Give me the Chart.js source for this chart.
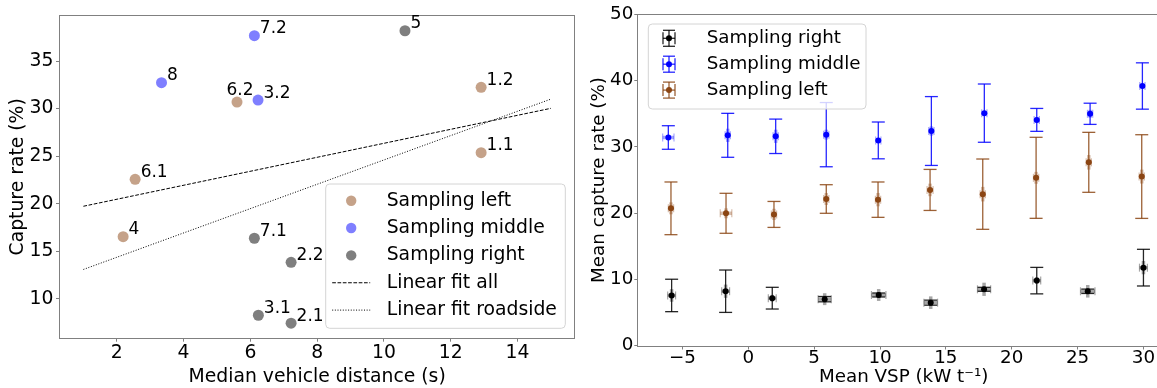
<!DOCTYPE html>
<html>
<head>
<meta charset="utf-8">
<script src="https://cdn.jsdelivr.net/npm/chart.js@4.4.0/dist/chart.umd.min.js"></script>
<style>
  html, body { margin: 0; padding: 0; overflow: hidden; background: #fff; }
  #gapChart { position: absolute; left: 0; top: 0; }
  #vspChart { position: absolute; left: 580px; top: 0; }
</style>
</head>
<body>
<canvas id="gapChart" width="580" height="388"></canvas>
<canvas id="vspChart" width="600" height="388"></canvas>
<script>
// capture rate per sampling site against median vehicle gap
const leftSites = ['1.1', '1.2', '4', '6.1', '6.2'];
const leftGap = [12.91, 12.91, 2.19, 2.55, 5.60];
const leftRate = [25.37, 32.24, 16.54, 22.57, 30.69];

const middleSites = ['3.2', '7.2', '8'];
const middleGap = [6.23, 6.12, 3.34];
const middleRate = [30.90, 37.66, 32.72];

const rightSites = ['2.1', '2.2', '3.1', '5', '7.1'];
const rightGap = [7.22, 7.22, 6.24, 10.63, 6.12];
const rightRate = [7.45, 13.85, 8.29, 38.18, 16.38];

// linear fits (end points)
const fitAllX = [1, 15];
const fitAllY = [19.74, 30.03];
const fitRoadX = [1, 15];
const fitRoadY = [13.1, 31.0];

const gapTicks = [2, 4, 6, 8, 10, 12, 14];
const rateTicks = [10, 15, 20, 25, 30, 35];

// mean capture rate per VSP bin
const vspRight = [-5.82, -1.72, 1.82, 5.80, 9.90, 13.85, 17.90, 21.90, 25.77, 30.00];
const meanRight = [7.56, 8.20, 7.15, 7.00, 7.63, 6.47, 8.49, 9.80, 8.19, 11.76];
const errRight = [2.45, 3.20, 1.64, 0.40, 0.30, 0.38, 0.30, 2.00, 0.33, 2.77];
const innerRight = [0.95, 1.00, 0.50, 0.90, 0.90, 0.95, 1.00, 0.50, 0.95, 1.00];
const vspErrRight = [0.30, 0.30, 0.30, 0.50, 0.55, 0.52, 0.50, 0.30, 0.55, 0.30];

const vspMiddle = [-6.07, -1.56, 2.08, 5.92, 9.87, 13.90, 17.92, 21.90, 25.95, 29.92];
const meanMiddle = [31.42, 31.75, 31.60, 31.85, 30.98, 32.40, 35.10, 34.08, 35.00, 39.20];
const errMiddle = [1.78, 3.32, 2.60, 4.85, 2.78, 5.20, 4.40, 1.73, 1.60, 3.50];
const innerMiddle = [0.30, 1.00, 1.00, 0.75, 0.30, 0.70, 0.20, 0.40, 0.60, 0.20];
const vspErrMiddle = [0.43, 0.20, 0.20, 0.20, 0.20, 0.20, 0.20, 0.20, 0.20, 0.20];

const vspLeft = [-5.87, -1.69, 1.95, 5.92, 9.85, 13.80, 17.80, 21.85, 25.85, 29.87];
const meanLeft = [20.72, 19.97, 19.80, 22.13, 22.03, 23.50, 22.86, 25.33, 27.67, 25.52];
const errLeft = [3.98, 3.02, 1.96, 2.16, 2.67, 3.10, 5.31, 6.12, 4.53, 6.32];
const innerLeft = [0.90, 0.75, 0.85, 0.90, 1.00, 0.95, 1.10, 0.90, 1.10, 1.05];
const vspErrLeft = [0.20, 0.44, 0.20, 0.20, 0.20, 0.23, 0.20, 0.20, 0.20, 0.20];

const vspTicks = [-5, 0, 5, 10, 15, 20, 25, 30];
const meanTicks = [0, 10, 20, 30, 40, 50];

const FONT = "'DejaVu Sans', sans-serif";
const SPINE = '#808080';
Chart.defaults.font.family = FONT;
Chart.defaults.color = '#000';
Chart.defaults.animation = false;

function fixTicks(values) {
  return scale => { scale.ticks = values.map(value => ({value})); };
}

function minusSign(value) {
  return String(value).replace('-', '\u2212');
}

function points(xs, ys) {
  return xs.map((x, i) => ({x, y: ys[i]}));
}

function line(ctx, x1, y1, x2, y2) {
  ctx.beginPath();
  ctx.moveTo(x1, y1);
  ctx.lineTo(x2, y2);
  ctx.stroke();
}

const frame = {
  id: 'frame',
  beforeDatasetsDraw(chart) {
    const {ctx, chartArea: a} = chart;
    ctx.save();
    ctx.strokeStyle = SPINE;
    ctx.lineWidth = 1;
    ctx.strokeRect(Math.round(a.left) - 0.5, Math.round(a.top) - 0.5,
      Math.round(a.right - a.left) + 1, Math.round(a.bottom - a.top) + 1);
    ctx.restore();
  }
};

const siteLabels = {
  id: 'siteLabels',
  afterDatasetsDraw(chart) {
    const {ctx} = chart;
    ctx.save();
    ctx.font = '17px ' + FONT;
    ctx.fillStyle = '#000';
    ctx.textBaseline = 'alphabetic';
    chart.data.datasets.forEach((ds, di) => {
      if (!ds.sites) return;
      chart.getDatasetMeta(di).data.forEach((pt, i) => {
        const name = ds.sites[i];
        if (name === '6.2') {
          ctx.textAlign = 'center';
          ctx.fillText(name, pt.x + 3, pt.y - 7);
        } else {
          ctx.textAlign = 'left';
          ctx.fillText(name, pt.x + 5.5, pt.y - 2.5);
        }
      });
    });
    ctx.restore();
  }
};

// capped error bar with a shaded inner bar and horizontal spread
function errorGlyph(ctx, color, cx, cy, half, spread, inner, cap) {
  ctx.strokeStyle = color;
  ctx.globalAlpha = 0.35;
  ctx.lineWidth = 3.5;
  if (inner > 0) line(ctx, cx, cy - inner, cx, cy + inner);
  line(ctx, cx - half, cy, cx + half, cy);
  ctx.lineWidth = 1.2;
  line(ctx, cx - half, cy - 4, cx - half, cy + 4);
  line(ctx, cx + half, cy - 4, cx + half, cy + 4);
  ctx.globalAlpha = 0.85;
  ctx.lineWidth = 1.3;
  line(ctx, cx, cy - spread, cx, cy + spread);
  line(ctx, cx - cap, cy - spread, cx + cap, cy - spread);
  line(ctx, cx - cap, cy + spread, cx + cap, cy + spread);
  ctx.globalAlpha = 1;
}

const errorBars = {
  id: 'errorBars',
  beforeDatasetsDraw(chart) {
    const {ctx, scales: {x, y}} = chart;
    ctx.save();
    chart.data.datasets.forEach(ds => {
      ds.data.forEach(p => {
        const cx = x.getPixelForValue(p.x);
        const cy = y.getPixelForValue(p.y);
        const half = Math.abs(x.getPixelForValue(p.x + p.xErr) - cx);
        const spread = Math.abs(y.getPixelForValue(p.y + p.err) - cy);
        const inner = Math.abs(y.getPixelForValue(p.y + p.inner) - cy);
        errorGlyph(ctx, ds.borderColor, cx, cy, half, spread, inner, 6.5);
      });
    });
    ctx.restore();
  }
};

const boxLegend = {
  id: 'boxLegend',
  afterDraw(chart, args, o) {
    const {ctx} = chart;
    ctx.save();
    ctx.beginPath();
    ctx.roundRect(o.x, o.y, o.w, o.h, 4);
    ctx.fillStyle = 'rgba(255,255,255,0.8)';
    ctx.fill();
    ctx.strokeStyle = '#d4d4d4';
    ctx.lineWidth = 1;
    ctx.stroke();
    o.order.forEach((di, row) => {
      const ds = chart.data.datasets[di];
      const cy = o.firstRow + row * o.rowGap;
      if (o.kind === 'errorbar') {
        const c = ds.borderColor;
        ctx.strokeStyle = c;
        ctx.globalAlpha = 0.85;
        ctx.lineWidth = 1.3;
        line(ctx, o.iconX, cy - 8, o.iconX, cy + 8);
        line(ctx, o.iconX - 6, cy - 8, o.iconX + 6, cy - 8);
        line(ctx, o.iconX - 6, cy + 8, o.iconX + 6, cy + 8);
        line(ctx, o.iconX - 6, cy, o.iconX + 6, cy);
        line(ctx, o.iconX - 6, cy - 6, o.iconX - 6, cy + 6);
        line(ctx, o.iconX + 6, cy - 6, o.iconX + 6, cy + 6);
        ctx.globalAlpha = 1;
        ctx.fillStyle = c;
        ctx.beginPath();
        ctx.arc(o.iconX, cy, 3, 0, Math.PI * 2);
        ctx.fill();
      } else if (ds.showLine) {
        ctx.strokeStyle = ds.borderColor;
        ctx.lineWidth = 1;
        ctx.setLineDash(ds.borderDash);
        line(ctx, o.iconX - 19, cy, o.iconX + 19, cy);
        ctx.setLineDash([]);
      } else {
        ctx.fillStyle = ds.backgroundColor;
        ctx.beginPath();
        ctx.arc(o.iconX, cy, 5.2, 0, Math.PI * 2);
        ctx.fill();
      }
      ctx.font = o.size + 'px ' + FONT;
      ctx.textBaseline = 'middle';
      ctx.textAlign = 'left';
      ctx.fillStyle = '#000';
      ctx.fillText(ds.label, o.textX, cy);
    });
    ctx.restore();
  }
};

function axis(opts) {
  return {
    type: 'linear',
    min: opts.min,
    max: opts.max,
    afterBuildTicks: fixTicks(opts.ticks),
    afterFit: opts.fit,
    border: {display: false},
    grid: {drawOnChartArea: false, drawTicks: true, tickLength: 4, tickColor: SPINE},
    ticks: {
      font: {size: opts.size, lineHeight: opts.lineHeight || 1.2},
      padding: opts.pad,
      maxRotation: 0,
      autoSkip: false,
      callback: minusSign
    },
    title: {
      display: true,
      text: opts.title,
      font: {size: opts.size},
      padding: {top: opts.titlePad, bottom: 0}
    }
  };
}

// median vehicle gap vs capture rate
new Chart(document.getElementById('gapChart'), {
  type: 'scatter',
  data: {
    datasets: [
      {label: 'Sampling left', sites: leftSites, data: points(leftGap, leftRate),
        backgroundColor: 'rgba(139,69,19,0.5)', pointRadius: 5.5, borderWidth: 0},
      {label: 'Sampling middle', sites: middleSites, data: points(middleGap, middleRate),
        backgroundColor: 'rgba(0,0,255,0.5)', pointRadius: 5.5, borderWidth: 0},
      {label: 'Sampling right', sites: rightSites, data: points(rightGap, rightRate),
        backgroundColor: 'rgba(0,0,0,0.5)', pointRadius: 5.5, borderWidth: 0},
      {label: 'Linear fit all', data: points(fitAllX, fitAllY), showLine: true,
        borderColor: '#000', borderWidth: 1, borderDash: [3.7, 1.6], pointRadius: 0},
      {label: 'Linear fit roadside', data: points(fitRoadX, fitRoadY), showLine: true,
        borderColor: '#000', borderWidth: 1, borderDash: [1, 1.65], pointRadius: 0}
    ]
  },
  options: {
    responsive: false,
    devicePixelRatio: 1,
    layout: {padding: {top: 16, right: 5.7, left: 0, bottom: 0}},
    scales: {
      x: axis({min: 0.30, max: 15.70, ticks: gapTicks, size: 18.8, pad: 0,
        title: 'Median vehicle distance (s)', titlePad: 4.6,
        fit: s => { s.height = 50.3; }}),
      y: axis({min: 5.93, max: 39.73, ticks: rateTicks, size: 18.8, pad: 2.5,
        title: 'Capture rate (%)', titlePad: 6.8,
        fit: s => { s.width = 60; }})
    },
    plugins: {
      legend: {display: false},
      tooltip: {enabled: false},
      boxLegend: {x: 325.7, y: 184, w: 239.6, h: 144.3, firstRow: 200.7, rowGap: 27.35,
        iconX: 351.2, textX: 386.7, size: 18.8, kind: 'marker', order: [0, 1, 2, 3, 4]}
    }
  },
  plugins: [frame, siteLabels, boxLegend]
});

function binned(xs, ys, errs, inners, xErrs) {
  return xs.map((x, i) => ({x, y: ys[i], err: errs[i], inner: inners[i], xErr: xErrs[i]}));
}

// mean capture rate per VSP bin
new Chart(document.getElementById('vspChart'), {
  type: 'scatter',
  data: {
    datasets: [
      {label: 'Sampling right', borderColor: '#000000', backgroundColor: '#000000',
        data: binned(vspRight, meanRight, errRight, innerRight, vspErrRight)},
      {label: 'Sampling middle', borderColor: '#0000ff', backgroundColor: '#0000ff',
        data: binned(vspMiddle, meanMiddle, errMiddle, innerMiddle, vspErrMiddle)},
      {label: 'Sampling left', borderColor: '#8b4513', backgroundColor: '#8b4513',
        data: binned(vspLeft, meanLeft, errLeft, innerLeft, vspErrLeft)}
    ]
  },
  options: {
    responsive: false,
    devicePixelRatio: 1,
    elements: {point: {radius: 3, borderWidth: 0}},
    layout: {padding: {top: 14.5, right: 11, left: 0, bottom: 0}},
    scales: {
      x: axis({min: -8.35, max: 31.94, ticks: vspTicks, size: 18.3, pad: 0, lineHeight: 1,
        title: 'Mean VSP (kW t\u207B\u00B9)', titlePad: -4,
        fit: s => { s.height = 42.5; }}),
      y: axis({min: 0, max: 50, ticks: meanTicks, size: 18.3, pad: 1,
        title: 'Mean capture rate (%)', titlePad: 8.7,
        fit: s => { s.width = 58.3; }})
    },
    plugins: {
      legend: {display: false},
      tooltip: {enabled: false},
      boxLegend: {x: 68.3, y: 24, w: 217.7, h: 85, firstRow: 38.3, rowGap: 25.9,
        iconX: 89, textX: 126.7, size: 18.3, kind: 'errorbar', order: [0, 1, 2]}
    }
  },
  plugins: [frame, errorBars, boxLegend]
});
</script>
</body>
</html>
